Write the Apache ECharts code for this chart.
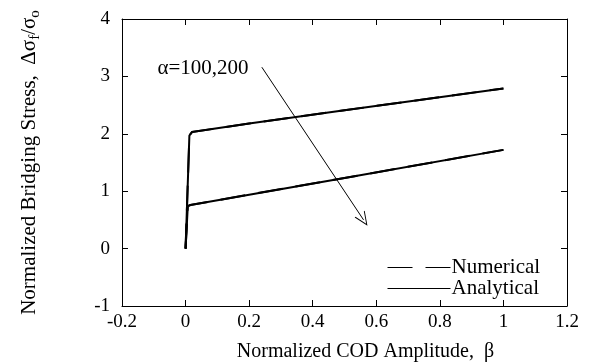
<!DOCTYPE html>
<html>
<head>
<meta charset="utf-8">
<script src="https://cdn.jsdelivr.net/npm/echarts@6/dist/echarts.min.js"></script>
<style>
  html, body { margin: 0; padding: 0; background: #fff; }
  #chart { width: 595px; height: 363px; }
</style>
</head>
<body>
<div id="chart"></div>
<script>
// beta, stress pairs
const numericalHigh = [[0, 0], [0.012, 1.97], [0.02, 2.03], [0.2, 2.18], [0.5, 2.41], [1, 2.79]];
const numericalLow = [[0, 0], [0.007, 0.74], [0.015, 0.76], [0.2, 0.94], [0.5, 1.23], [1, 1.72]];
const analyticalHigh = [[0, 0], [0.012, 1.97], [0.02, 2.03], [0.2, 2.18], [0.5, 2.41], [1, 2.79]];
const analyticalLow = [[0, 0], [0.007, 0.74], [0.015, 0.76], [0.2, 0.94], [0.5, 1.23], [1, 1.72]];
const arrowFrom = [0.24, 3.16];
const arrowTo = [0.56, 0.5];
const alphaAt = [-0.09, 3.13];
const alphaLabel = "α=100,200";

const font = "Liberation Serif";
const fs = 20;
const black = "#000";
// open arrow head, tip at the top
const openArrow = "path://M0,0 L6,12 L5,12 L0,2 L-5,12 L-6,12 Z";

const chart = echarts.init(document.getElementById("chart"));

function lineSeries(name, data, dashed) {
  return {
    name: name,
    type: "line",
    data: data,
    symbol: "none",
    xAxisIndex: 0,
    yAxisIndex: 0,
    lineStyle: { color: black, width: 2, type: dashed ? [25, 13] : "solid" },
    itemStyle: { color: black },
    z: dashed ? 3 : 2,
  };
}

const hiddenAxis = {
  axisLabel: { show: false },
  axisTick: { show: true, inside: true, length: 6, lineStyle: { color: black } },
  axisLine: { show: true, onZero: false, lineStyle: { color: black, width: 1 } },
  splitLine: { show: false },
};

chart.setOption({
  animation: false,
  textStyle: { fontFamily: font, color: black },
  grid: { left: 122, right: 28, top: 19, bottom: 57, outerBoundsMode: "none" },
  legend: {
    orient: "vertical",
    left: 387,
    top: 257,
    padding: 0,
    itemWidth: 63,
    itemHeight: 12,
    itemGap: 0,
    itemStyle: { opacity: 0 },
    lineStyle: { width: 1 },
    textStyle: {
      fontFamily: font, fontSize: 21, color: black,
      lineHeight: 16, padding: [0, 0, 4, -4],
    },
    data: [
      { name: "Numerical", lineStyle: { width: 1, type: [25, 13, 25, 0] } },
      { name: "Analytical", lineStyle: { width: 1, type: "solid" } },
    ],
  },
  xAxis: [
    {
      type: "value",
      min: -0.2,
      max: 1.2,
      interval: 0.2,
      name: "Normalized COD Amplitude,  β",
      nameLocation: "middle",
      nameGap: 36,
      nameTextStyle: { fontFamily: font, fontSize: fs, color: black, padding: [0, 0, 0, 42] },
      axisLabel: {
        fontFamily: font, fontSize: 19, color: black, margin: 7,
        formatter: (v) => String(Math.round(v * 10) / 10),
      },
      axisTick: { inside: true, length: 6, lineStyle: { color: black } },
      axisLine: { onZero: false, lineStyle: { color: black, width: 1 } },
      splitLine: { show: false },
    },
    Object.assign({ type: "value", position: "top", min: -0.2, max: 1.2, interval: 0.2 }, hiddenAxis),
  ],
  yAxis: [
    {
      type: "value",
      min: -1,
      max: 4,
      interval: 1,
      name: "{t|Normalized Bridging Stress,  Δσ}{s|f}{t|/σ}{s|o}",
      nameLocation: "middle",
      nameGap: 82,
      nameTextStyle: {
        fontFamily: font, fontSize: 21, color: black,
        rich: {
          t: { fontFamily: font, fontSize: 21, color: black },
          s: { fontFamily: font, fontSize: 15, color: black, padding: [0, 0, -11, 0] },
        },
      },
      axisLabel: { fontFamily: font, fontSize: 19, color: black, margin: 12 },
      axisTick: { inside: true, length: 6, lineStyle: { color: black } },
      axisLine: { onZero: false, lineStyle: { color: black, width: 1 } },
      splitLine: { show: false },
    },
    Object.assign({ type: "value", position: "right", min: -1, max: 4, interval: 1 }, hiddenAxis),
  ],
  series: [
    lineSeries("Analytical", analyticalHigh, false),
    lineSeries("Analytical", analyticalLow, false),
    lineSeries("Numerical", numericalHigh, true),
    Object.assign(lineSeries("Numerical", numericalLow, true), {
      markLine: {
        silent: true,
        symbol: ["none", openArrow],
        symbolSize: [12, 14],
        lineStyle: { color: black, width: 1, type: "solid" },
        label: { show: false },
        data: [[{ coord: arrowFrom }, { coord: arrowTo }]],
      },
      markPoint: {
        silent: true,
        symbol: "rect",
        symbolSize: 1,
        itemStyle: { color: "rgba(0,0,0,0)" },
        data: [{
          coord: alphaAt,
          label: {
            show: true, position: "right", distance: 0, formatter: alphaLabel,
            fontFamily: font, fontSize: 21, color: black,
          },
        }],
      },
    }),
  ],
});
</script>
</body>
</html>
